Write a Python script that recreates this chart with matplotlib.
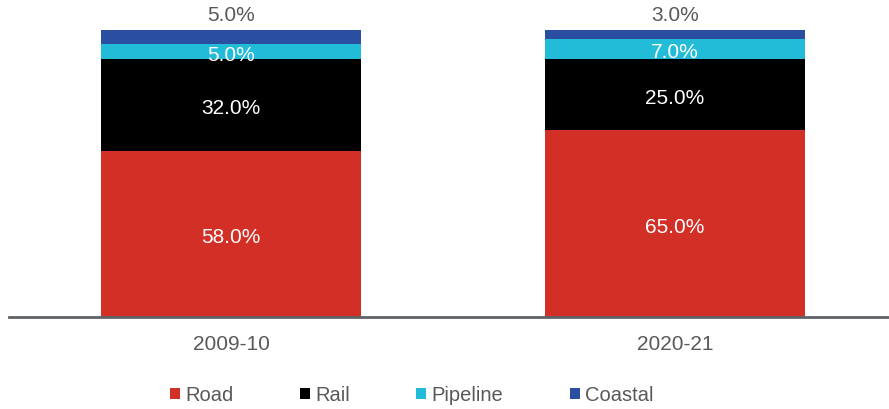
import matplotlib.pyplot as plt
import numpy as np

plt.rcParams['font.family'] = ['Liberation Sans', 'DejaVu Sans']

# data
years = ["2009-10", "2020-21"]
modes = ["Road", "Rail", "Pipeline", "Coastal"]
road = [58.0, 65.0]
rail = [32.0, 25.0]
pipeline = [5.0, 7.0]
coastal = [5.0, 3.0]

colors = ["#d22f27", "#000000", "#22bcd9", "#2a4fa1"]
txt_gray = "#595959"

fig = plt.figure(figsize=(8.89, 4.10), dpi=100)
ax = fig.add_axes([9 / 889, 92 / 410, 880 / 889, 287 / 410])

x = np.arange(len(years))
width = 0.586
bottom = np.zeros(len(years))
series = [road, rail, pipeline, coastal]

for name, vals, col in zip(modes, series, colors):
    vals = np.array(vals)
    ax.bar(x, vals, width, bottom=bottom, color=col, label=name)
    for xi, b, v in zip(x, bottom, vals):
        if name == "Coastal":
            ax.text(xi, 100 + 5.5, f"{v:.1f}%", ha="center", va="center",
                    fontsize=15, color=txt_gray)
        else:
            # labels sit a touch below the segment centre
            ax.annotate(f"{v:.1f}%", (xi, b + v / 2), xytext=(0, -2.2),
                        textcoords="offset points", ha="center", va="center",
                        fontsize=15, color="white")
    bottom += vals

ax.set_xlim(-0.5, 1.482)
ax.set_ylim(0, 100)
ax.set_yticks([])
ax.set_xticks(x)
ax.set_xticklabels(years, fontsize=15, color=txt_gray)
ax.tick_params(axis="x", length=0, pad=12)
for s in ["top", "right", "left"]:
    ax.spines[s].set_visible(False)
ax.spines["bottom"].set_color("#5f6368")
ax.spines["bottom"].set_linewidth(2)

leg = fig.legend(loc="center", bbox_to_anchor=(0.463, 14 / 410), ncol=4,
                 frameon=False, fontsize=14.5, handlelength=0.5, handleheight=0.5,
                 handletextpad=0.25, columnspacing=3.3)
for t in leg.get_texts():
    t.set_color(txt_gray)

fig.savefig("out.png", dpi=100)
